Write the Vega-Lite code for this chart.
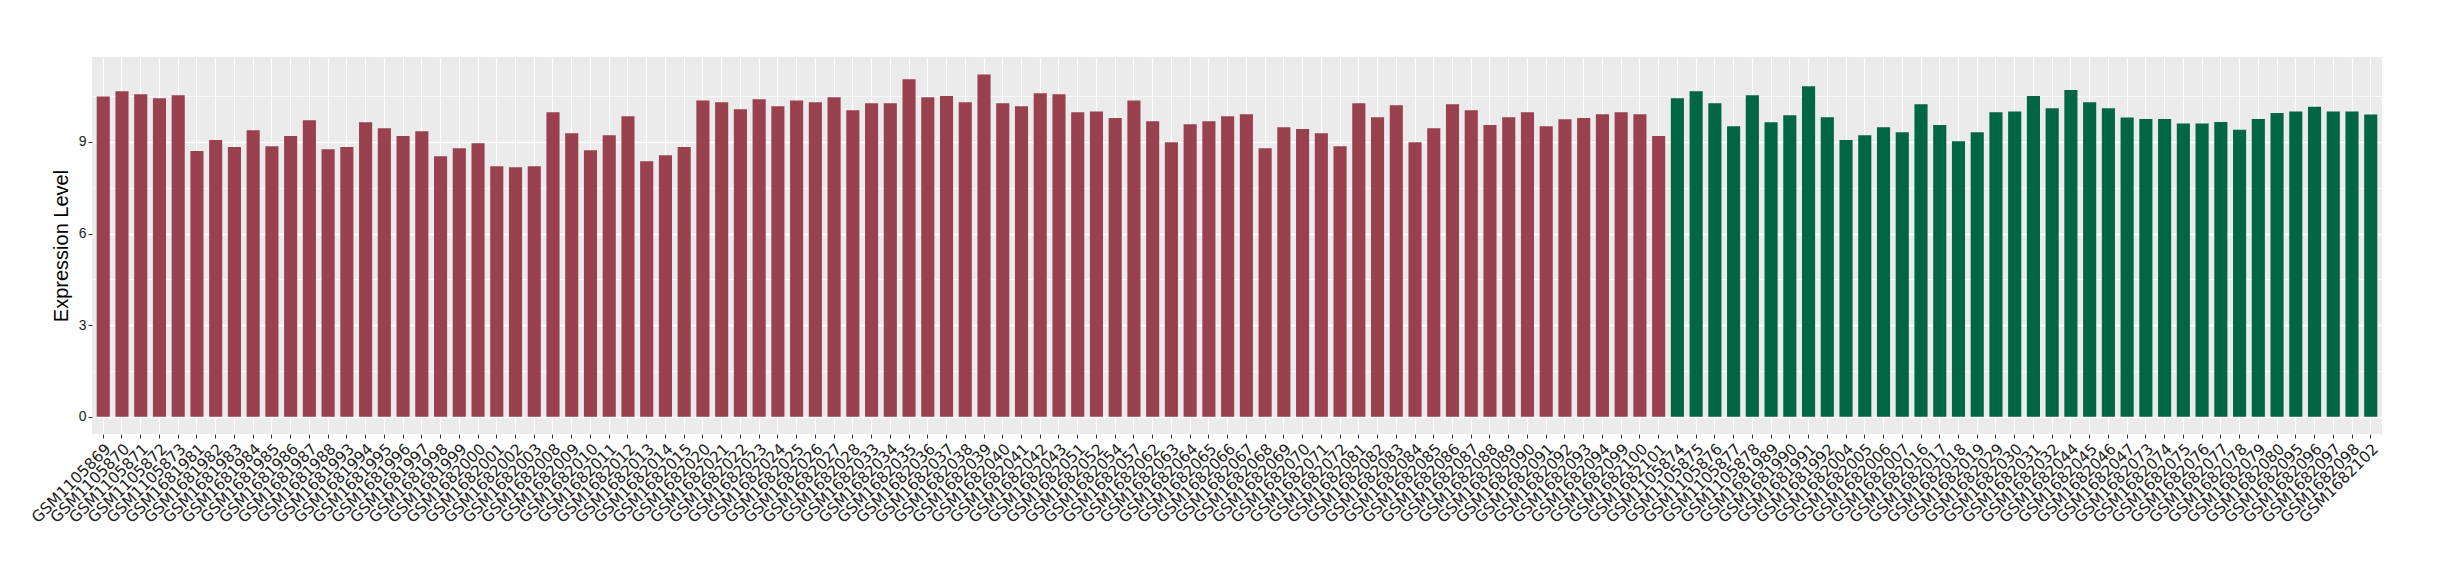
{
  "$schema": "https://vega.github.io/schema/vega-lite/v6.json",
  "width": 2290,
  "height": 377,
  "autosize": "none",
  "padding": {"left": 92, "top": 57, "right": 58, "bottom": 146},
  "background": "white",
  "config": {"view": {"fill": "#EBEBEB", "stroke": null}},
  "data": {"values": [
    {"sample": "GSM1105869", "value": 10.49, "group": "Group 1"},
    {"sample": "GSM1105870", "value": 10.66, "group": "Group 1"},
    {"sample": "GSM1105871", "value": 10.56, "group": "Group 1"},
    {"sample": "GSM1105872", "value": 10.43, "group": "Group 1"},
    {"sample": "GSM1105873", "value": 10.53, "group": "Group 1"},
    {"sample": "GSM1681981", "value": 8.70, "group": "Group 1"},
    {"sample": "GSM1681982", "value": 9.06, "group": "Group 1"},
    {"sample": "GSM1681983", "value": 8.83, "group": "Group 1"},
    {"sample": "GSM1681984", "value": 9.38, "group": "Group 1"},
    {"sample": "GSM1681985", "value": 8.86, "group": "Group 1"},
    {"sample": "GSM1681986", "value": 9.19, "group": "Group 1"},
    {"sample": "GSM1681987", "value": 9.71, "group": "Group 1"},
    {"sample": "GSM1681988", "value": 8.76, "group": "Group 1"},
    {"sample": "GSM1681993", "value": 8.83, "group": "Group 1"},
    {"sample": "GSM1681994", "value": 9.64, "group": "Group 1"},
    {"sample": "GSM1681995", "value": 9.45, "group": "Group 1"},
    {"sample": "GSM1681996", "value": 9.19, "group": "Group 1"},
    {"sample": "GSM1681997", "value": 9.35, "group": "Group 1"},
    {"sample": "GSM1681998", "value": 8.53, "group": "Group 1"},
    {"sample": "GSM1681999", "value": 8.79, "group": "Group 1"},
    {"sample": "GSM1682000", "value": 8.96, "group": "Group 1"},
    {"sample": "GSM1682001", "value": 8.20, "group": "Group 1"},
    {"sample": "GSM1682002", "value": 8.17, "group": "Group 1"},
    {"sample": "GSM1682003", "value": 8.20, "group": "Group 1"},
    {"sample": "GSM1682008", "value": 9.97, "group": "Group 1"},
    {"sample": "GSM1682009", "value": 9.28, "group": "Group 1"},
    {"sample": "GSM1682010", "value": 8.73, "group": "Group 1"},
    {"sample": "GSM1682011", "value": 9.22, "group": "Group 1"},
    {"sample": "GSM1682012", "value": 9.84, "group": "Group 1"},
    {"sample": "GSM1682013", "value": 8.37, "group": "Group 1"},
    {"sample": "GSM1682014", "value": 8.56, "group": "Group 1"},
    {"sample": "GSM1682015", "value": 8.83, "group": "Group 1"},
    {"sample": "GSM1682020", "value": 10.36, "group": "Group 1"},
    {"sample": "GSM1682021", "value": 10.30, "group": "Group 1"},
    {"sample": "GSM1682022", "value": 10.07, "group": "Group 1"},
    {"sample": "GSM1682023", "value": 10.40, "group": "Group 1"},
    {"sample": "GSM1682024", "value": 10.17, "group": "Group 1"},
    {"sample": "GSM1682025", "value": 10.36, "group": "Group 1"},
    {"sample": "GSM1682026", "value": 10.30, "group": "Group 1"},
    {"sample": "GSM1682027", "value": 10.46, "group": "Group 1"},
    {"sample": "GSM1682028", "value": 10.04, "group": "Group 1"},
    {"sample": "GSM1682033", "value": 10.27, "group": "Group 1"},
    {"sample": "GSM1682034", "value": 10.27, "group": "Group 1"},
    {"sample": "GSM1682035", "value": 11.05, "group": "Group 1"},
    {"sample": "GSM1682036", "value": 10.46, "group": "Group 1"},
    {"sample": "GSM1682037", "value": 10.50, "group": "Group 1"},
    {"sample": "GSM1682038", "value": 10.30, "group": "Group 1"},
    {"sample": "GSM1682039", "value": 11.21, "group": "Group 1"},
    {"sample": "GSM1682040", "value": 10.27, "group": "Group 1"},
    {"sample": "GSM1682041", "value": 10.17, "group": "Group 1"},
    {"sample": "GSM1682042", "value": 10.59, "group": "Group 1"},
    {"sample": "GSM1682043", "value": 10.56, "group": "Group 1"},
    {"sample": "GSM1682051", "value": 9.97, "group": "Group 1"},
    {"sample": "GSM1682052", "value": 10.00, "group": "Group 1"},
    {"sample": "GSM1682054", "value": 9.78, "group": "Group 1"},
    {"sample": "GSM1682057", "value": 10.36, "group": "Group 1"},
    {"sample": "GSM1682062", "value": 9.68, "group": "Group 1"},
    {"sample": "GSM1682063", "value": 8.99, "group": "Group 1"},
    {"sample": "GSM1682064", "value": 9.58, "group": "Group 1"},
    {"sample": "GSM1682065", "value": 9.68, "group": "Group 1"},
    {"sample": "GSM1682066", "value": 9.84, "group": "Group 1"},
    {"sample": "GSM1682067", "value": 9.91, "group": "Group 1"},
    {"sample": "GSM1682068", "value": 8.79, "group": "Group 1"},
    {"sample": "GSM1682069", "value": 9.48, "group": "Group 1"},
    {"sample": "GSM1682070", "value": 9.42, "group": "Group 1"},
    {"sample": "GSM1682071", "value": 9.28, "group": "Group 1"},
    {"sample": "GSM1682072", "value": 8.86, "group": "Group 1"},
    {"sample": "GSM1682081", "value": 10.27, "group": "Group 1"},
    {"sample": "GSM1682082", "value": 9.81, "group": "Group 1"},
    {"sample": "GSM1682083", "value": 10.20, "group": "Group 1"},
    {"sample": "GSM1682084", "value": 8.99, "group": "Group 1"},
    {"sample": "GSM1682085", "value": 9.45, "group": "Group 1"},
    {"sample": "GSM1682086", "value": 10.23, "group": "Group 1"},
    {"sample": "GSM1682087", "value": 10.04, "group": "Group 1"},
    {"sample": "GSM1682088", "value": 9.55, "group": "Group 1"},
    {"sample": "GSM1682089", "value": 9.81, "group": "Group 1"},
    {"sample": "GSM1682090", "value": 9.97, "group": "Group 1"},
    {"sample": "GSM1682091", "value": 9.51, "group": "Group 1"},
    {"sample": "GSM1682092", "value": 9.74, "group": "Group 1"},
    {"sample": "GSM1682093", "value": 9.78, "group": "Group 1"},
    {"sample": "GSM1682094", "value": 9.91, "group": "Group 1"},
    {"sample": "GSM1682099", "value": 9.97, "group": "Group 1"},
    {"sample": "GSM1682100", "value": 9.91, "group": "Group 1"},
    {"sample": "GSM1682101", "value": 9.19, "group": "Group 1"},
    {"sample": "GSM1105874", "value": 10.43, "group": "Group 2"},
    {"sample": "GSM1105875", "value": 10.66, "group": "Group 2"},
    {"sample": "GSM1105876", "value": 10.27, "group": "Group 2"},
    {"sample": "GSM1105877", "value": 9.51, "group": "Group 2"},
    {"sample": "GSM1105878", "value": 10.53, "group": "Group 2"},
    {"sample": "GSM1681989", "value": 9.64, "group": "Group 2"},
    {"sample": "GSM1681990", "value": 9.87, "group": "Group 2"},
    {"sample": "GSM1681991", "value": 10.82, "group": "Group 2"},
    {"sample": "GSM1681992", "value": 9.81, "group": "Group 2"},
    {"sample": "GSM1682004", "value": 9.06, "group": "Group 2"},
    {"sample": "GSM1682005", "value": 9.22, "group": "Group 2"},
    {"sample": "GSM1682006", "value": 9.48, "group": "Group 2"},
    {"sample": "GSM1682007", "value": 9.32, "group": "Group 2"},
    {"sample": "GSM1682016", "value": 10.23, "group": "Group 2"},
    {"sample": "GSM1682017", "value": 9.55, "group": "Group 2"},
    {"sample": "GSM1682018", "value": 9.02, "group": "Group 2"},
    {"sample": "GSM1682019", "value": 9.32, "group": "Group 2"},
    {"sample": "GSM1682029", "value": 9.97, "group": "Group 2"},
    {"sample": "GSM1682030", "value": 10.0, "group": "Group 2"},
    {"sample": "GSM1682031", "value": 10.5, "group": "Group 2"},
    {"sample": "GSM1682032", "value": 10.1, "group": "Group 2"},
    {"sample": "GSM1682044", "value": 10.7, "group": "Group 2"},
    {"sample": "GSM1682045", "value": 10.3, "group": "Group 2"},
    {"sample": "GSM1682046", "value": 10.1, "group": "Group 2"},
    {"sample": "GSM1682047", "value": 9.8, "group": "Group 2"},
    {"sample": "GSM1682073", "value": 9.75, "group": "Group 2"},
    {"sample": "GSM1682074", "value": 9.75, "group": "Group 2"},
    {"sample": "GSM1682075", "value": 9.6, "group": "Group 2"},
    {"sample": "GSM1682076", "value": 9.6, "group": "Group 2"},
    {"sample": "GSM1682077", "value": 9.65, "group": "Group 2"},
    {"sample": "GSM1682078", "value": 9.4, "group": "Group 2"},
    {"sample": "GSM1682079", "value": 9.75, "group": "Group 2"},
    {"sample": "GSM1682080", "value": 9.95, "group": "Group 2"},
    {"sample": "GSM1682095", "value": 10.0, "group": "Group 2"},
    {"sample": "GSM1682096", "value": 10.15, "group": "Group 2"},
    {"sample": "GSM1682097", "value": 10.0, "group": "Group 2"},
    {"sample": "GSM1682098", "value": 10.0, "group": "Group 2"},
    {"sample": "GSM1682102", "value": 9.9, "group": "Group 2"}
  ]},
  "mark": {"type": "bar"},
  "encoding": {
    "x": {
      "field": "sample", "type": "nominal", "sort": null,
      "scale": {"paddingInner": 0.3, "paddingOuter": 0.25},
      "axis": {
        "title": null, "labelAngle": -45, "labelAlign": "right", "labelBaseline": "top",
        "labelFont": "DejaVu Sans", "labelFontSize": 15.5, "labelColor": "#222222",
        "labelPadding": 3, "labelOverlap": false, "labelBound": false, "labelLimit": 0,
        "tickSize": 4, "tickColor": "#333333", "tickWidth": 1, "domain": false,
        "grid": true, "gridColor": "white", "gridWidth": 1.2, "bandPosition": 0.5
      }
    },
    "y": {
      "field": "value", "type": "quantitative",
      "scale": {"domain": [-0.561, 11.78], "nice": false},
      "axis": {
        "title": "Expression Level", "titleFont": "Liberation Sans", "titleFontSize": 20,
        "titleFontWeight": "normal", "titleColor": "black", "titlePadding": 7,
        "values": [0, 1.5, 3, 4.5, 6, 7.5, 9, 10.5],
        "labelExpr": "datum.value % 3 == 0 ? format(datum.value, 'd') : ''",
        "labelFont": "Liberation Sans", "labelFontSize": 14, "labelColor": "#222222", "labelPadding": 2,
        "tickSize": 4, "tickColor": "#333333", "tickWidth": 1,
        "tickOpacity": {"condition": {"test": "datum.value % 3 == 0", "value": 1}, "value": 0},
        "domain": false, "grid": true, "gridColor": "white",
        "gridWidth": {"condition": {"test": "datum.value % 3 == 0", "value": 1.4}, "value": 0.7}
      }
    },
    "y2": {"datum": 0},
    "color": {
      "field": "group", "type": "nominal",
      "scale": {"domain": ["Group 1", "Group 2"], "range": ["#9A4150", "#006644"]},
      "legend": null
    }
  }
}
